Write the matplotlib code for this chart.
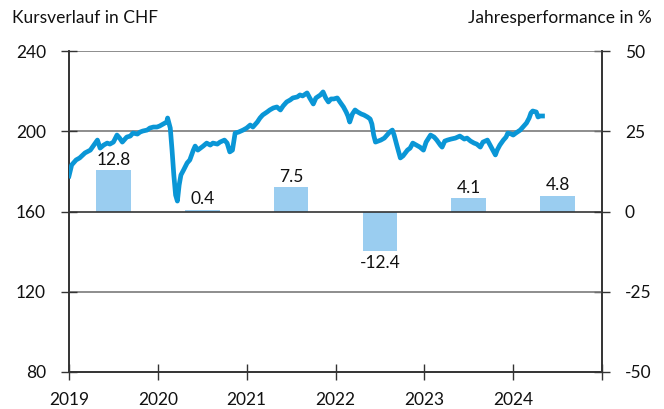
import matplotlib
matplotlib.use("Agg")
import matplotlib.pyplot as plt

plt.rcParams['font.family'] = ['Lato', 'DejaVu Sans']
plt.rcParams['axes.unicode_minus'] = False

# Price series (decimal year, CHF)
dates = [2019.00, 2019.03, 2019.08, 2019.12, 2019.18, 2019.24, 2019.28, 2019.32, 2019.35, 2019.39,
         2019.43, 2019.46, 2019.50, 2019.54, 2019.57, 2019.60, 2019.62, 2019.65, 2019.69, 2019.72,
         2019.77, 2019.80, 2019.83, 2019.88, 2019.91, 2019.95, 2019.99, 2020.02, 2020.06, 2020.10,
         2020.11, 2020.14, 2020.16, 2020.18, 2020.20, 2020.22, 2020.24, 2020.26, 2020.29, 2020.33,
         2020.36, 2020.40, 2020.42, 2020.45, 2020.48, 2020.51, 2020.55, 2020.59, 2020.62, 2020.67,
         2020.70, 2020.75, 2020.78, 2020.81, 2020.84, 2020.87, 2020.91, 2020.96, 2021.00, 2021.04,
         2021.07, 2021.12, 2021.15, 2021.18, 2021.23, 2021.26, 2021.30, 2021.34, 2021.38, 2021.41,
         2021.45, 2021.49, 2021.52, 2021.57, 2021.60, 2021.63, 2021.68, 2021.71, 2021.75, 2021.78,
         2021.83, 2021.86, 2021.89, 2021.92, 2021.95, 2021.98, 2022.02, 2022.05, 2022.09, 2022.12,
         2022.14, 2022.16, 2022.19, 2022.22, 2022.25, 2022.29, 2022.32, 2022.36, 2022.39, 2022.41,
         2022.43, 2022.45, 2022.48, 2022.51, 2022.55, 2022.58, 2022.61, 2022.64, 2022.66, 2022.69,
         2022.73, 2022.76, 2022.81, 2022.84, 2022.87, 2022.91, 2022.95, 2022.99, 2023.02, 2023.07,
         2023.11, 2023.14, 2023.18, 2023.20, 2023.23, 2023.26, 2023.30, 2023.35, 2023.40, 2023.45,
         2023.48, 2023.52, 2023.56, 2023.59, 2023.63, 2023.66, 2023.71, 2023.74, 2023.77, 2023.80,
         2023.82, 2023.85, 2023.89, 2023.92, 2023.94, 2023.98, 2024.00, 2024.03, 2024.08, 2024.11,
         2024.15, 2024.18, 2024.20, 2024.22, 2024.26, 2024.28, 2024.30, 2024.33]
prices = [177.7, 183.2, 185.7, 186.7, 189.2, 190.6, 193.1, 195.6, 191.6, 193.1,
          194.1, 193.6, 194.6, 198.1, 196.6, 194.6, 195.6, 197.1, 197.6, 199.1,
          198.6, 199.6, 200.1, 200.6, 201.6, 202.1, 202.1, 202.6, 203.6, 204.6,
          206.6, 201.6, 190.6, 178.2, 168.2, 165.2, 173.2, 178.2, 180.7, 184.2,
          185.7, 190.6, 192.6, 190.6, 191.6, 192.6, 194.1, 193.1, 194.1, 193.6,
          194.6, 195.6, 194.1, 189.7, 190.6, 199.1, 199.6, 200.6, 201.6, 203.1,
          202.1, 204.6, 206.6, 208.1, 209.6, 210.6, 211.6, 212.1, 210.6, 212.6,
          214.6, 215.6, 216.6, 217.1, 218.1, 217.6, 219.1, 216.6, 213.6, 216.6,
          218.1, 219.6, 216.6, 214.6, 216.1, 216.1, 216.6, 214.6, 212.1, 209.6,
          207.6, 204.6, 208.6, 210.6, 209.6, 208.6, 208.1, 207.1, 206.1, 203.6,
          198.1, 194.6, 195.1, 195.6, 196.6, 198.1, 199.6, 200.6, 198.1, 193.1,
          186.7, 187.7, 190.6, 191.6, 194.1, 193.1, 192.1, 190.6, 194.6, 198.1,
          197.1, 195.6, 193.1, 192.1, 195.1, 195.6, 196.1, 196.6, 197.6, 196.1,
          196.6, 195.1, 194.1, 193.6, 192.1, 194.6, 195.6, 193.1, 190.6, 188.2,
          190.6, 193.1, 195.6, 197.1, 199.1, 198.6, 198.1, 199.1, 200.6, 202.1,
          204.1, 206.6, 209.1, 210.1, 209.6, 207.1, 207.6, 207.6]

# Annual performance (%)
years = [2019, 2020, 2021, 2022, 2023, 2024]
perf = [12.8, 0.4, 7.5, -12.4, 4.1, 4.8]
perf_labels = ["12.8", "0.4", "7.5", "-12.4", "4.1", "4.8"]

left_ticks = [80, 120, 160, 200, 240]
right_ticks = [-50, -25, 0, 25, 50]
x_ticks = [2019, 2020, 2021, 2022, 2023, 2024, 2025]
x_labels = ["2019", "2020", "2021", "2022", "2023", "2024", ""]

line_color = "#0A96D6"
bar_color = "#9ACDF0"
dark = "#333333"
grid = "#7a7a7a"
txt = "#111111"
fs = 12.5

fig = plt.figure(figsize=(6.64, 4.09), dpi=100)
ax = fig.add_axes([69/664, 1-372/409, (602-69)/664, (372-51)/409])
ax2 = ax.twinx()

# bars on right axis
centers = [y + 0.5 for y in years]
ax2.bar(centers, perf, width=0.39, color=bar_color, zorder=2)
ax2.set_ylim(-50, 50)
ax2.set_yticks(right_ticks)
for c, v, lab in zip(centers, perf, perf_labels):
    if v >= 0:
        ax2.annotate(lab, (c, v), xytext=(0, 2), textcoords="offset points",
                     ha="center", va="bottom", fontsize=fs, color=txt)
    else:
        ax2.annotate(lab, (c, v), xytext=(0, -3), textcoords="offset points",
                     ha="center", va="top", fontsize=fs, color=txt)

# line on left axis, drawn above bars
ax.set_zorder(ax2.get_zorder() + 1)
ax.patch.set_visible(False)
ax.set_ylim(80, 240)
ax.set_yticks(left_ticks)
for v in [120, 200, 240]:
    ax.axhline(v, color=grid, lw=1.2, zorder=1)
ax.axhline(160, color=dark, lw=1.2, zorder=1)
ax.plot(dates, prices, color=line_color, lw=3.4, solid_joinstyle="round", zorder=3)

ax.set_xlim(2019, 2025)
ax.set_xticks(x_ticks)
ax.set_xticklabels(x_labels)

for a in (ax, ax2):
    a.spines['top'].set_visible(False)
    for s in ['left', 'right', 'bottom']:
        a.spines[s].set_color(dark)
        a.spines[s].set_linewidth(1.2)

ax.tick_params(axis='y', direction='inout', length=11, width=1.0, color=dark,
               labelsize=fs, labelcolor=txt, pad=11)
ax2.tick_params(axis='y', direction='inout', length=11, width=1.0, color=dark,
                labelsize=fs, labelcolor=txt, pad=11)
ax.tick_params(axis='x', direction='inout', length=11, width=1.0, color=dark,
               labelsize=fs, labelcolor=txt, pad=9)

fig.text(12/664, 1-18/409, "Kursverlauf in CHF", ha='left', va='center',
         fontsize=fs, color=txt)
fig.text(652/664, 1-18/409, "Jahresperformance in %", ha='right', va='center',
         fontsize=fs, color=txt)

fig.savefig("out.png", dpi=100)
